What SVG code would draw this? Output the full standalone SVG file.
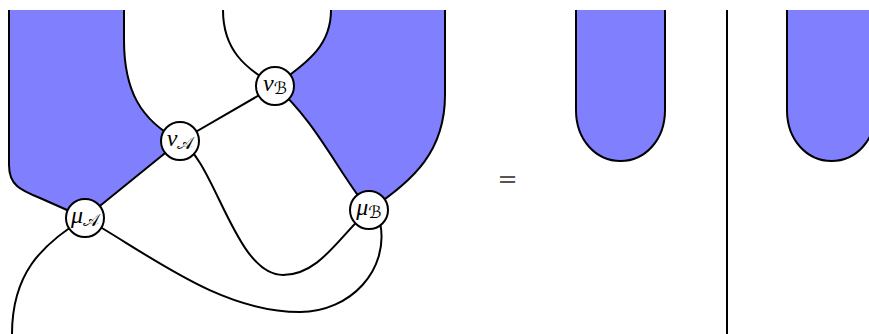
<svg xmlns="http://www.w3.org/2000/svg" width="869" height="334" viewBox="0 0 869 334">
<style>
.region{fill:#8080ff;stroke:none}
.edge{fill:none;stroke:#000;stroke-width:2;stroke-linecap:butt}
.node circle{fill:#fff;stroke:#000;stroke-width:2}
.lbl{font-family:"Liberation Serif","DejaVu Serif",serif;font-size:24px;fill:#000}
.sub{font-family:"DejaVu Sans","DejaVu Serif",serif;font-size:17px;fill:#000}
.eq{font-family:"DejaVu Serif","Liberation Serif",serif;font-size:24px;fill:#555}
</style>
<rect width="869" height="334" fill="#fff"/>
<g id="regions">
<path class="region" d="M 9 10 L 124 10 L 124 40 C 124 90, 140 120, 180 141 L 85 218 L 40 198 C 20 190, 9 185, 9 165 Z"/>
<path class="region" d="M 331 10 L 445 10 L 445 95 C 445 150, 415 180, 369 210 C 340 175, 315 120, 275 86 C 310 60, 331 45, 331 10 Z"/>
<path class="region" d="M 576 10 L 576 110 C 576 140, 596 161, 620.5 161 C 645 161, 665 140, 665 110 L 665 10 Z"/>
<path class="region" d="M 787 10 L 787 110 C 787 140, 807 161, 831.5 161 C 856 161, 876 140, 876 110 L 876 10 Z"/>
</g>
<g id="connectors">
<path class="edge" d="M 9 10 L 9 165 C 9 185, 20 190, 40 198 L 85 218"/>
<path class="edge" d="M 124 10 L 124 40 C 124 90, 140 120, 180 141"/>
<path class="edge" d="M 180 141 L 85 218"/>
<path class="edge" d="M 180 141 L 275 86"/>
<path class="edge" d="M 223 10 C 223 50, 245 68, 275 86"/>
<path class="edge" d="M 331 10 C 331 45, 310 60, 275 86"/>
<path class="edge" d="M 275 86 C 315 120, 340 175, 369 210"/>
<path class="edge" d="M 445 10 L 445 95 C 445 150, 415 180, 369 210"/>
<path class="edge" d="M 180 141 C 215 160, 235 275, 283 275 C 320 275, 340 235, 369 210"/>
<path class="edge" d="M 85 218 C 150 255, 220 312, 300 312 C 350 312, 390 270, 380 222"/>
<path class="edge" d="M 85 218 C 40 245, 12 275, 12 334"/>
<path class="edge" d="M 576 10 L 576 110 C 576 140, 596 161, 620.5 161 C 645 161, 665 140, 665 110 L 665 10"/>
<path class="edge" d="M 727 10 L 727 334"/>
<path class="edge" d="M 787 10 L 787 110 C 787 140, 807 161, 831.5 161 C 856 161, 876 140, 876 110 L 876 10"/>
</g>
<g id="nuB" class="node"><circle cx="275" cy="86" r="19"/><text class="lbl" x="275" y="91" text-anchor="middle"><tspan font-style="italic">ν</tspan><tspan class="sub" dy="3">ℬ</tspan></text></g>
<g id="nuA" class="node"><circle cx="180" cy="141" r="19"/><text class="lbl" x="180" y="146" text-anchor="middle"><tspan font-style="italic">ν</tspan><tspan class="sub" dy="3">𝒜</tspan></text></g>
<g id="muA" class="node"><circle cx="85" cy="218" r="19"/><text class="lbl" x="85" y="223" text-anchor="middle"><tspan font-style="italic">μ</tspan><tspan class="sub" dy="3">𝒜</tspan></text></g>
<g id="muB" class="node"><circle cx="369" cy="210" r="19"/><text class="lbl" x="369" y="215" text-anchor="middle"><tspan font-style="italic">μ</tspan><tspan class="sub" dy="3">ℬ</tspan></text></g>
<text class="eq" x="507.5" y="187" text-anchor="middle">=</text>
</svg>
